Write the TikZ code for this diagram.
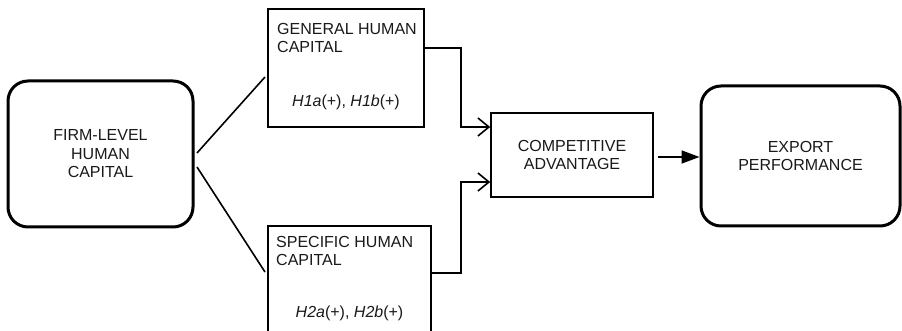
\documentclass[tikz,border=0pt]{standalone}
\usepackage{fontspec}
\setmainfont{Liberation Sans}
\usetikzlibrary{arrows.meta}
\begin{document}
\begin{tikzpicture}[x=1pt,y=-1pt,
  txt/.style={font=\fontsize{16}{18.5}\selectfont, text=black!90, inner sep=0pt},
  roundbox/.style={draw, line width=3pt, rounded corners=20pt, inner sep=0pt},
  plainbox/.style={draw, line width=1.6pt, inner sep=0pt},
  conn/.style={line width=1.6pt},
  openarrow/.style={conn, -{Straight Barb[length=11pt,width=18pt,line width=1.6pt]}},
  fillarrow/.style={conn, -{Triangle[length=18pt,width=13pt]}}]
\useasboundingbox (0,0) rectangle (902,331);
\clip (0,0) rectangle (902,331);
% boxes
\node[roundbox, minimum width=185pt, minimum height=146pt] (firm) at (100.5,154) {};
\node[txt, align=center] (firmt) at (firm.center) {FIRM-LEVEL\\HUMAN\\CAPITAL};
\node[plainbox, minimum width=156pt, minimum height=118pt] (gen) at (346,68) {};
\node[txt, align=left, anchor=north west] (gent) at (277,23) {GENERAL HUMAN\\CAPITAL};
\node[txt] (genh) at (346,102) {\textit{H1a}(+), \textit{H1b}(+)};
\node[plainbox, minimum width=163pt, minimum height=119pt] (spec) at (349.5,285.5) {};
\node[txt, align=left, anchor=north west] (spect) at (276,236) {SPECIFIC HUMAN\\CAPITAL};
\node[txt] (spech) at (349.5,313) {\textit{H2a}(+), \textit{H2b}(+)};
\node[plainbox, minimum width=162pt, minimum height=84pt] (comp) at (572,155) {};
\node[txt, align=center] (compt) at (comp.center) {COMPETITIVE\\ADVANTAGE};
\node[roundbox, minimum width=199pt, minimum height=140pt] (exp) at (800.5,156) {};
\node[txt, align=center] (expt) at (exp.center) {EXPORT\\PERFORMANCE};
% connectors
\coordinate (f1) at (197,153);
\coordinate (f2) at (197,167);
\coordinate (g1) at (265,77);
\coordinate (s1) at (265,272);
\draw[conn] (f1) -- (g1);
\draw[conn] (f2) -- (s1);
\draw[openarrow] (gen.east |- 0,48) -| (461,127) -- (comp.west |- 0,127);
\draw[openarrow] (spec.east |- 0,273) -| (461,182) -- (comp.west |- 0,182);
\draw[fillarrow] ([xshift=4pt]comp.east |- 0,157) -- (exp.west |- 0,157);
\end{tikzpicture}
\end{document}
